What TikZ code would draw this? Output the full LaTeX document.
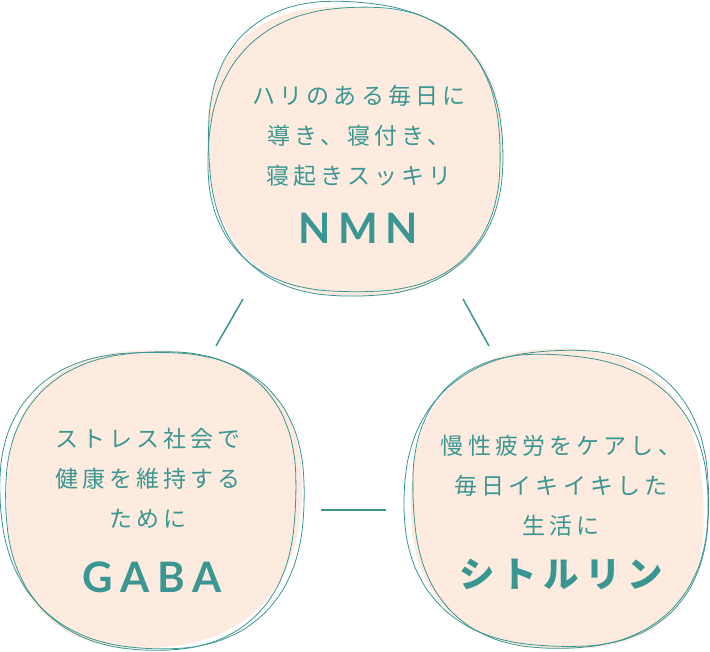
\documentclass[tikz,border=0pt]{standalone}
\usepackage{fontspec}
\usepackage{tikz}
\usetikzlibrary{positioning,calc}

\newfontfamily\jpfont[LetterSpace=18]{Noto Sans CJK JP}
\newfontfamily\latfont[LetterSpace=18]{Lato}

\definecolor{teal1}{HTML}{3A9692}
\definecolor{peach}{HTML}{FDEBDF}

% rough hand drawn circle: centre x, centre y, radius, phase
\newcommand{\blobpath}[4]{%
  plot[smooth cycle, domain=5:355, samples=36]
    ({#1+#3*blobr(\x,#4)*cos(\x)}, {#2+#3*blobr(\x,#4)*sin(\x)})}

\begin{document}
\begin{tikzpicture}[
    x=1pt, y=-1pt,
    declare function={blobr(\t,\p)=(abs(cos(\t))^2.4+abs(sin(\t))^2.4)^(-1/2.4)
                      *(1+0.015*sin(2*\t+\p)+0.012*cos(3*\t+2*\p));},
    blobfill/.style={fill=peach},
    blobline/.style={draw=teal1, line width=0.8pt},
    txt/.style={align=center, text=teal1, font=\jpfont\fontsize{23}{40}\selectfont},
    big/.style={text=teal1, font=\latfont\bfseries\fontsize{42}{42}\selectfont},
    bigjp/.style={text=teal1, font=\jpfont\bfseries\fontsize{35.5}{35.5}\selectfont},
    link/.style={draw=teal1, line width=1.5pt}
]
\useasboundingbox (0,0) rectangle (710,652);

% blobs
\fill[blobfill] \blobpath{355}{150}{146}{40};
\draw[blobline] \blobpath{354}{149}{147}{0};
\draw[blobline] \blobpath{355}{151}{144}{120};

\fill[blobfill] \blobpath{153}{498}{148}{200};
\draw[blobline] \blobpath{153}{499}{150}{60};
\draw[blobline] \blobpath{152}{500}{147}{250};

\fill[blobfill] \blobpath{558}{500}{148}{300};
\draw[blobline] \blobpath{558}{499}{150}{100};
\draw[blobline] \blobpath{559}{501}{147}{10};

% texts
\node[txt] (nmn-txt) at (359,136) {ハリのある毎日に\\導き、寝付き、\\寝起きスッキリ};
\node[big] (nmn) at (358,228) {NMN};

\node[txt] (gaba-txt) at (148,478) {ストレス社会で\\健康を維持する\\ために};
\node[big] (gaba) at (152,577) {GABA};

\node[txt] (cit-txt) at (561,486) {慢性疲労をケアし、\\毎日イキイキした\\生活に};
\node[bigjp] (cit) at (561,574) {シトルリン};

% links
\coordinate (l1a) at (243,299);
\coordinate (l1b) at (216,346);
\coordinate (l2a) at (463,299);
\coordinate (l2b) at (489,346);
\coordinate (l3a) at (321,510);
\coordinate (l3b) at (386,510);
\draw[link] (l1a) -- (l1b);
\draw[link] (l2a) -- (l2b);
\draw[link] (l3a) -- (l3b);

\end{tikzpicture}
\end{document}
